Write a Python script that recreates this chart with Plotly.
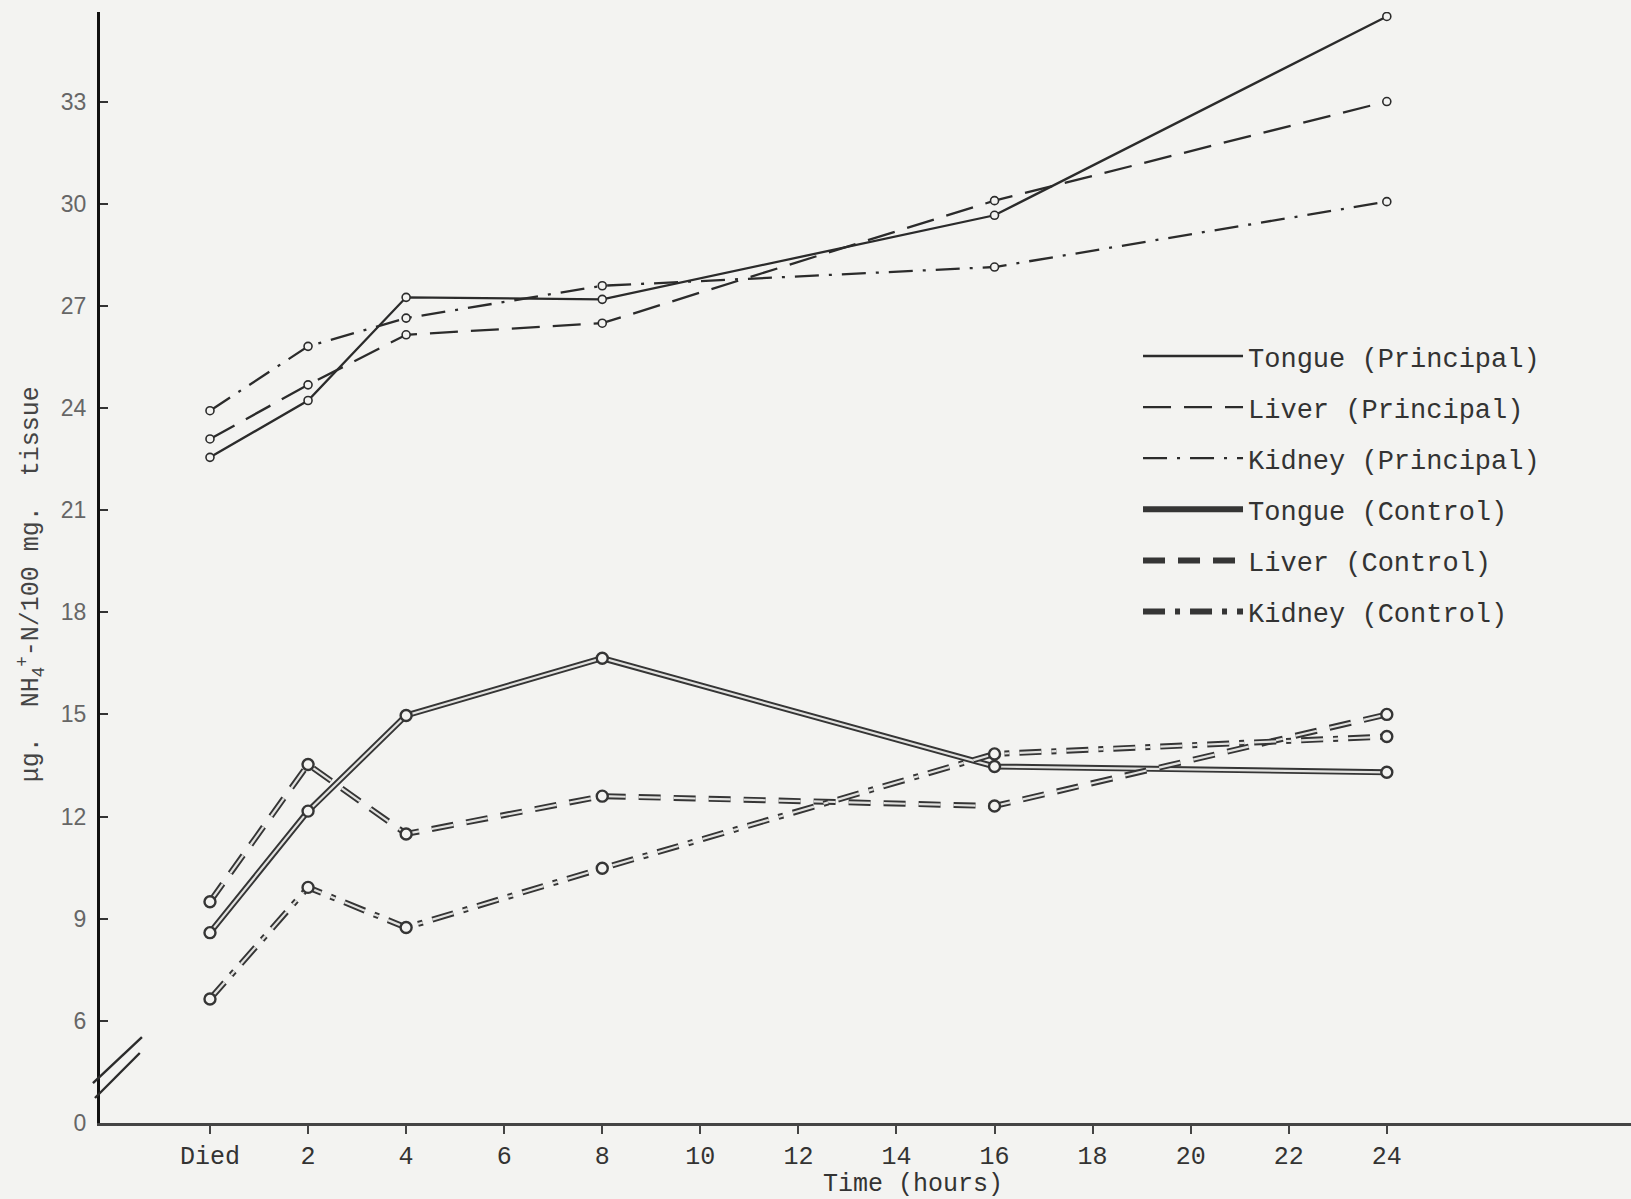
import plotly.graph_objects as go

# ---------------- data ----------------
hours = [0, 2, 4, 8, 16, 24]

tongue_principal = [22.55, 24.22, 27.25, 27.19, 29.66, 35.5]
liver_principal = [23.09, 24.68, 26.15, 26.49, 30.09, 33.0]
kidney_principal = [23.92, 25.81, 26.64, 27.59, 28.14, 30.06]

tongue_control = [8.59, 12.16, 14.97, 16.65, 13.47, 13.30]
liver_control = [9.50, 13.53, 11.49, 12.60, 12.31, 15.0]
kidney_control = [6.64, 9.92, 8.74, 10.48, 13.84, 14.35]

x_tickvals = list(range(0, 25, 2))
x_ticktext = ["Died"] + [str(v) for v in range(2, 25, 2)]

# y axis is broken: the "0" label sits one step below 6
y_tickvals = [3, 6, 9, 12, 15, 18, 21, 24, 27, 30, 33]
y_ticktext = ["0", "6", "9", "12", "15", "18", "21", "24", "27", "30", "33"]

# ---------------- style ----------------
BG = "#f3f3f1"
INK = "#2b2b2b"
MONO = "Liberation Mono, Courier New, monospace"

fig = go.Figure()

principal = [
    ("Tongue (Principal)", tongue_principal, "solid"),
    ("Liver (Principal)", liver_principal, "28px,13px"),
    ("Kidney (Principal)", kidney_principal, "24px,10px,3px,10px"),
]
control = [
    ("Tongue (Control)", tongue_control, "solid"),
    ("Liver (Control)", liver_control, "22px,13px"),
    ("Kidney (Control)", kidney_control, "22px,10px,5px,10px"),
]

for name, vals, dash in principal:
    fig.add_trace(go.Scatter(
        x=hours, y=vals, name=name, legendgroup=name, mode="lines",
        line=dict(color=INK, width=2.3, dash=dash),
    ))
    fig.add_trace(go.Scatter(
        x=hours, y=vals, name=name, legendgroup=name, mode="markers",
        showlegend=False, hoverinfo="skip",
        marker=dict(symbol="circle", size=8, color=BG,
                    line=dict(color=INK, width=1.6)),
    ))

for name, vals, dash in control:
    fig.add_trace(go.Scatter(
        x=hours, y=vals, name=name, legendgroup=name, mode="lines",
        line=dict(color="#353535", width=6, dash=dash),
    ))
    fig.add_trace(go.Scatter(
        x=hours, y=vals, name=name, legendgroup=name, mode="lines+markers",
        showlegend=False, hoverinfo="skip",
        line=dict(color="#e2e2e0", width=2.2, dash=dash),
        marker=dict(symbol="circle", size=11, color=BG,
                    line=dict(color="#353535", width=2.4)),
    ))

# axis break marks
for (x0, y0, x1, y1) in [(-0.0046, 0.036, 0.0274, 0.0774),
                         (-0.0033, 0.0225, 0.026, 0.063)]:
    fig.add_shape(type="line", xref="paper", yref="paper",
                  x0=x0, y0=y0, x1=x1, y1=y1,
                  line=dict(color=INK, width=2.4))

fig.add_annotation(
    text="Time (hours)", xref="paper", yref="paper",
    x=0.531, y=-0.055, xanchor="center", yanchor="middle",
    showarrow=False, font=dict(family=MONO, size=25, color="#333"),
)
fig.add_annotation(
    text="μg.  NH<sub>4</sub><sup>+</sup>-N/100 mg.  tissue",
    xref="paper", yref="paper", x=-0.045, y=0.485,
    xanchor="center", yanchor="middle", textangle=-90,
    showarrow=False, font=dict(family=MONO, size=25, color="#444"),
)

fig.update_layout(
    width=1631, height=1199,
    margin=dict(l=100, r=0, t=12, b=76),
    paper_bgcolor=BG, plot_bgcolor=BG,
    showlegend=True,
    legend=dict(
        x=0.678, y=0.712, xanchor="left", yanchor="top",
        bgcolor="rgba(0,0,0,0)", tracegroupgap=13,
        font=dict(family=MONO, size=27, color="#333"),
        itemwidth=100,
    ),
    xaxis=dict(
        range=[-2.243, 28.98], tickvals=x_tickvals, ticktext=x_ticktext,
        showgrid=False, zeroline=False, showline=True,
        linecolor="#444", linewidth=3,
        ticks="outside", ticklen=8, tickwidth=2, tickcolor="#444",
        tickfont=dict(family=MONO, size=25, color="#333"),
    ),
    yaxis=dict(
        range=[3.0, 35.63], tickvals=y_tickvals, ticktext=y_ticktext,
        showgrid=False, zeroline=False, showline=True,
        linecolor="#111", linewidth=3,
        ticks="inside", ticklen=8, tickwidth=2, tickcolor="#333",
        tickfont=dict(family="Liberation Sans, Arial, sans-serif", size=23, color="#666"),
        ticklabelstandoff=6,
    ),
)

fig.write_html(
    "out.html",
    config={"displayModeBar": False},
    post_script="document.body.style.margin='0';document.body.style.background='#f3f3f1';",
)
